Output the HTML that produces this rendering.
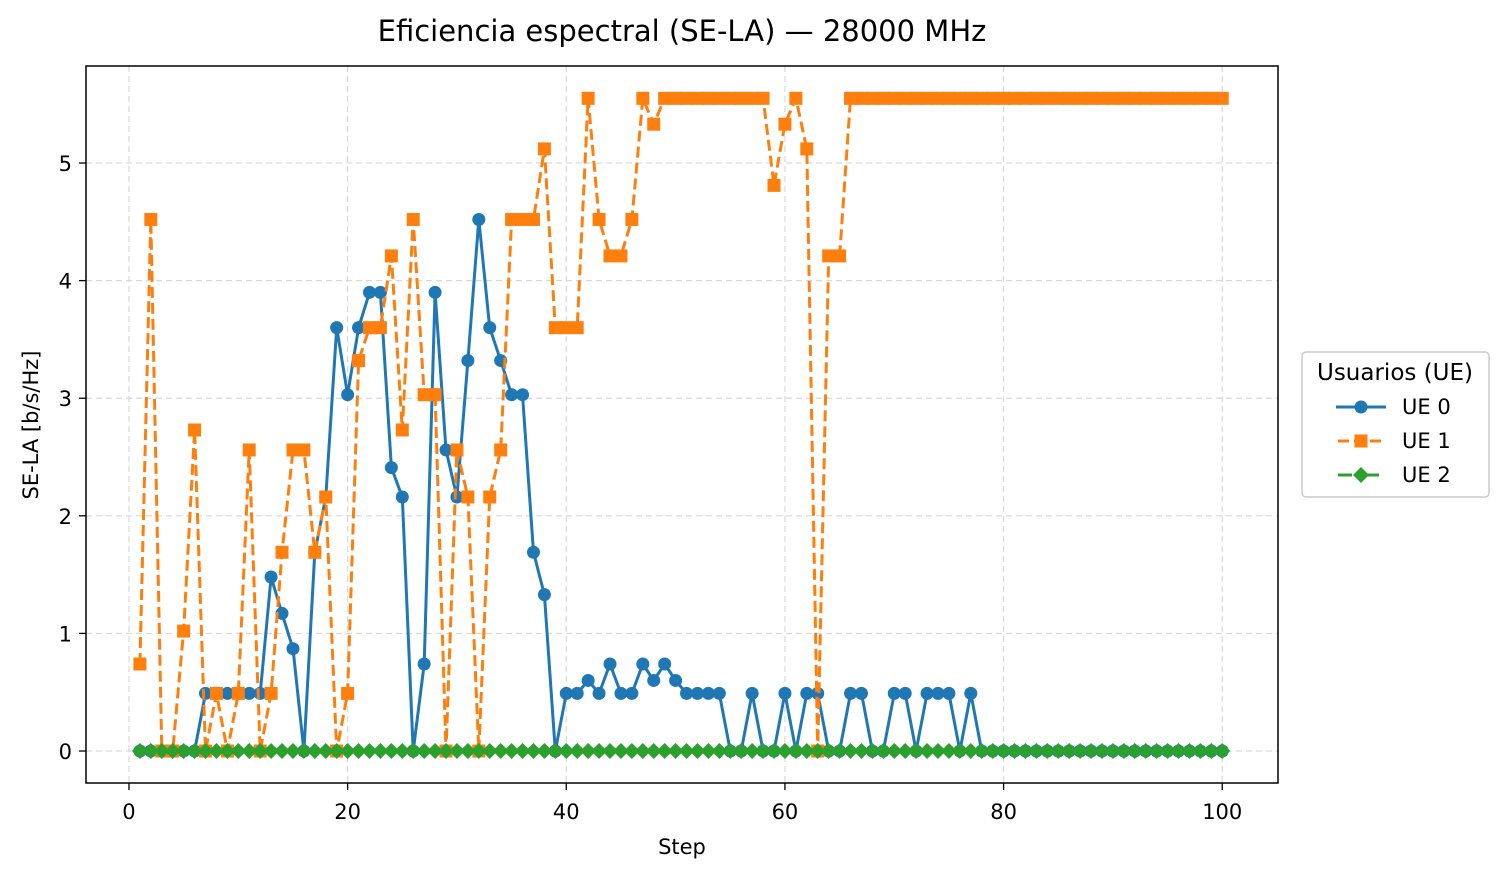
<!DOCTYPE html>
<html><head><meta charset="utf-8"><style>
body{margin:0;background:#fff;}
svg{display:block;font-family:"DejaVu Sans","Liberation Sans",sans-serif;}
</style></head><body>
<svg id="chart" width="1507" height="877" viewBox="0 0 1507 877" xmlns="http://www.w3.org/2000/svg">
<rect x="0" y="0" width="1507" height="877" fill="#fff"/>
<text x="682" y="41" font-size="29" text-anchor="middle" fill="#000">Eficiencia espectral (SE-LA) — 28000 MHz</text>
<g id="grid"></g>
<g id="plot"></g>
<rect x="86" y="66" width="1192" height="717" fill="none" stroke="#000" stroke-width="1.5"/>
<g id="axes"></g>
<text x="682" y="854" font-size="21" text-anchor="middle">Step</text>
<text transform="translate(38,425) rotate(-90)" font-size="21" text-anchor="middle">SE-LA [b/s/Hz]</text>
<g>
<rect x="1302" y="352" width="187" height="145" rx="4" fill="#fff" stroke="#ccc" stroke-width="1.5"/>
<text x="1395" y="380" font-size="23" text-anchor="middle">Usuarios (UE)</text>
<g>
<line x1="1336" y1="407" x2="1386" y2="407" stroke="#1f77b4" stroke-width="3"/>
<circle cx="1361" cy="407" r="6.5" fill="#1f77b4"/>
<text x="1402" y="414" font-size="21">UE 0</text></g>
<g>
<line x1="1338" y1="441" x2="1384" y2="441" stroke="#ff7f0e" stroke-width="3" stroke-dasharray="11,5"/>
<rect x="1354.5" y="434.5" width="13" height="13" fill="#ff7f0e"/>
<text x="1402" y="448" font-size="21">UE 1</text></g>
<g>
<line x1="1338" y1="475" x2="1384" y2="475" stroke="#2ca02c" stroke-width="3" stroke-dasharray="14,5,3,5"/>
<path d="M1361 467 L1369 475 L1361 483 L1353 475 Z" fill="#2ca02c"/>
<text x="1402" y="482" font-size="21">UE 2</text></g>
</g>
</svg>
<script>
const steps = Array.from({length:100},(_,i)=>i+1);
const ue0 = [0,0,0,0,0,0,0.49,0.49,0.49,0.49,0.49,0.49,1.48,1.17,0.87,0,1.69,2.16,3.6,3.03,
3.6,3.9,3.9,2.41,2.16,0,0.74,3.9,2.56,2.16,3.32,4.52,3.6,3.32,3.03,3.03,1.69,1.33,0,0.49,
0.49,0.6,0.49,0.74,0.49,0.49,0.74,0.6,0.74,0.6,0.49,0.49,0.49,0.49,0,0,0.49,0,0,0.49,
0,0.49,0.49,0,0,0.49,0.49,0,0,0.49,0.49,0,0.49,0.49,0.49,0,0.49,0,0,0,
0,0,0,0,0,0,0,0,0,0,0,0,0,0,0,0,0,0,0,0];
const ue1 = [0.74,4.52,0,0,1.02,2.73,0,0.49,0,0.49,2.56,0,0.49,1.69,2.56,2.56,1.69,2.16,0,0.49,
3.32,3.6,3.6,4.21,2.73,4.52,3.03,3.03,0,2.56,2.16,0,2.16,2.56,4.52,4.52,4.52,5.12,3.6,3.6,
3.6,5.55,4.52,4.21,4.21,4.52,5.55,5.33,5.55,5.55,5.55,5.55,5.55,5.55,5.55,5.55,5.55,5.55,4.81,5.33,
5.55,5.12,0,4.21,4.21,5.55,5.55,5.55,5.55,5.55,5.55,5.55,5.55,5.55,5.55,5.55,5.55,5.55,5.55,5.55,
5.55,5.55,5.55,5.55,5.55,5.55,5.55,5.55,5.55,5.55,5.55,5.55,5.55,5.55,5.55,5.55,5.55,5.55,5.55,5.55];
const ue2 = Array(100).fill(0);
const xTicks = [0,20,40,60,80,100];
const yTicks = [0,1,2,3,4,5];

const NS="http://www.w3.org/2000/svg";
const X0=86,X1=1278,Y0=783,Y1=66, xmin=-3.93,xmax=105.1,ymin=-0.272,ymax=5.825;
function xs(v){return X0+(v-xmin)/(xmax-xmin)*(X1-X0);}
function ys(v){return Y0-(v-ymin)/(ymax-ymin)*(Y0-Y1);}
function mk(tag,attrs,parent){const e=document.createElementNS(NS,tag);for(const k in attrs)e.setAttribute(k,attrs[k]);parent.appendChild(e);return e;}
const grid=document.getElementById('grid'),axes=document.getElementById('axes'),plot=document.getElementById('plot');
xTicks.forEach(t=>{
  const x=xs(t);
  const g=mk('line',{x1:x,x2:x,y1:Y1,y2:Y0,stroke:'#d9d9d9','stroke-width':1.2,'stroke-dasharray':'6,4'},grid);
  
  
  const tk=mk('line',{x1:x,x2:x,y1:Y0,y2:Y0+7,stroke:'#000','stroke-width':1.3},axes);
  
  
  const tl=mk('text',{x:x,y:Y0+36,'font-size':21,'text-anchor':'middle'},axes);
  tl.textContent=t;
  
  
});
yTicks.forEach(t=>{
  const y=ys(t);
  const g=mk('line',{x1:X0,x2:X1,y1:y,y2:y,stroke:'#d9d9d9','stroke-width':1.2,'stroke-dasharray':'6,4'},grid);
  
  
  const tk=mk('line',{x1:X0-7,x2:X0,y1:y,y2:y,stroke:'#000','stroke-width':1.3},axes);
  
  
  const tl=mk('text',{x:X0-14,y:y+8,'font-size':21,'text-anchor':'end'},axes);
  tl.textContent=t;
  
  
});
function series(vals,color,dash,marker,name){
  const g=mk('g',{},plot);
  
  
  const pts=vals.map((v,i)=>xs(steps[i]).toFixed(1)+','+ys(v).toFixed(1)).join(' ');
  const pl=mk('polyline',{points:pts,fill:'none',stroke:color,'stroke-width':3,'stroke-dasharray':dash,'stroke-linejoin':'round'},g);
  
  
  vals.forEach((v,i)=>{
    const x=xs(steps[i]),y=ys(v);let m;
    if(marker==='o')m=mk('circle',{cx:x,cy:y,r:6.5,fill:color},g);
    else if(marker==='s')m=mk('rect',{x:x-6.5,y:y-6.5,width:13,height:13,fill:color},g);
    else m=mk('path',{d:`M${x} ${y-8} L${x+8} ${y} L${x} ${y+8} L${x-8} ${y} Z`,fill:color},g);
    
    
  });
}
series(ue0,'#1f77b4','none','o','series-ue0');
series(ue1,'#ff7f0e','11,5','s','series-ue1');
series(ue2,'#2ca02c','14,5,3,5','d','series-ue2');
</script>
</body></html>
